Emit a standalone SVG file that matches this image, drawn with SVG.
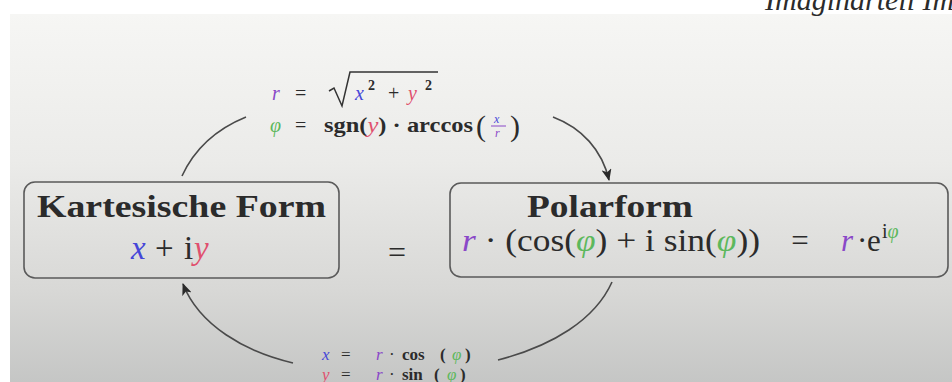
<svg xmlns="http://www.w3.org/2000/svg" width="952" height="382" viewBox="0 0 952 382">
<defs>
<linearGradient id="bg" x1="0" y1="14" x2="0" y2="382" gradientUnits="userSpaceOnUse">
<stop offset="0" stop-color="#f6f6f4"/>
<stop offset="0.4" stop-color="#ebebe9"/>
<stop offset="0.75" stop-color="#d8d8d6"/>
<stop offset="1" stop-color="#c5c6c5"/>
</linearGradient>
<marker id="arr" viewBox="0 0 12 10" refX="11" refY="5" markerWidth="12" markerHeight="10" markerUnits="userSpaceOnUse" orient="auto">
<path d="M0,0 L12,5 L0,10 L3,5 Z" fill="#2a2a2a"/>
</marker>
<style>
.s{font-family:"Liberation Serif","Times New Roman","DejaVu Serif",serif;fill:#2b2b2b}
.b{font-weight:bold}
.it{font-style:italic}
.cx{fill:#4646d8}
.cy{fill:#e0506e}
.cr{fill:#8a48c8}
.cp{fill:#5cb85c}
.box{fill:none;stroke:#5a5a5a;stroke-width:1.6}
.arc{fill:none;stroke:#4a4a4a;stroke-width:1.6}
</style>
</defs>
<rect x="0" y="0" width="952" height="382" fill="#ffffff"/>
<rect x="10" y="14" width="942" height="368" fill="url(#bg)"/>
<text class="s it" x="765" y="10" font-size="30" fill="#111">Imaginärteil Im</text>

<g id="connectors">
<path class="arc" d="M182,176 C194,150 214,130 246,117"/>
<path class="arc" d="M553,117 C582,128 602,150 609,180" marker-end="url(#arr)"/>
<path class="arc" d="M612,282 C595,320 552,346 498,360"/>
<path class="arc" d="M293,363 C245,352 199,325 183,284" marker-end="url(#arr)"/>
</g>

<g id="kartesisch">
<rect class="box" x="24" y="182" width="315" height="96" rx="11"/>
<text class="s b" x="37" y="217" font-size="32" textLength="289" lengthAdjust="spacingAndGlyphs">Kartesische Form</text>
<text class="s it cx" x="131" y="259" font-size="33">x</text>
<text class="s" x="155" y="259" font-size="33">+</text>
<text class="s" x="184" y="259" font-size="33">i</text>
<text class="s it cy" x="194" y="259" font-size="33">y</text>
</g>

<g id="gleich">
<text class="s" x="397" y="263" font-size="32" text-anchor="middle">=</text>
</g>

<g id="polar">
<rect class="box" x="450" y="183" width="498" height="94" rx="11"/>
<text class="s b" x="527" y="217" font-size="32" textLength="166" lengthAdjust="spacingAndGlyphs">Polarform</text>
<text class="s" x="462" y="251" font-size="31" textLength="298" lengthAdjust="spacingAndGlyphs"><tspan class="it cr">r</tspan> · (cos(<tspan class="it cp">φ</tspan>) + i sin(<tspan class="it cp">φ</tspan>))</text>
<text class="s" x="800" y="251" font-size="31" text-anchor="middle">=</text>
<text class="s it cr" x="841" y="251" font-size="31">r</text>
<text class="s" x="857" y="251" font-size="31">·</text>
<text class="s" x="867" y="251" font-size="31">e</text>
<text class="s" x="882" y="238" font-size="20">i<tspan class="it cp">φ</tspan></text>
</g>

<g id="formel-oben">
<text class="s it cr" x="272" y="100" font-size="20">r</text>
<text class="s" x="295" y="100" font-size="20">=</text>
<path d="M329,91 L334,88 L342,106 L350,72 L438,72" fill="none" stroke="#333" stroke-width="1.5"/>
<text class="s it cx" x="355" y="100" font-size="20">x</text>
<text class="s b" x="368" y="90" font-size="14">2</text>
<text class="s" x="388" y="100" font-size="20">+</text>
<text class="s it cy" x="408" y="100" font-size="20">y</text>
<text class="s b" x="425" y="90" font-size="14">2</text>
<text class="s it cp" x="270" y="132" font-size="20">φ</text>
<text class="s" x="295" y="132" font-size="20">=</text>
<text class="s b" x="324" y="132" font-size="20" textLength="149" lengthAdjust="spacingAndGlyphs">sgn(<tspan class="it cy" font-weight="normal">y</tspan>) · arccos</text>
<text class="s" x="476" y="136" font-size="30">(</text>
<text class="s it cx" x="494" y="123" font-size="12">x</text>
<line x1="491" y1="126" x2="506" y2="126" stroke="#8a48c8" stroke-width="1"/>
<text class="s it cr" x="495" y="137" font-size="12">r</text>
<text class="s" x="510" y="136" font-size="30">)</text>
</g>

<g id="formel-unten">
<text class="s it cx" x="322" y="360" font-size="17">x</text>
<text class="s" x="341" y="360" font-size="17">=</text>
<text class="s it cr" x="376" y="360" font-size="17">r</text>
<text class="s" x="389" y="360" font-size="17">·</text>
<text class="s b" x="402" y="360" font-size="17">cos</text>
<text class="s b" x="440" y="360" font-size="17">(</text>
<text class="s it cp" x="452" y="360" font-size="17">φ</text>
<text class="s b" x="465" y="360" font-size="17">)</text>
<text class="s it cy" x="322" y="380" font-size="17">y</text>
<text class="s" x="341" y="380" font-size="17">=</text>
<text class="s it cr" x="376" y="380" font-size="17">r</text>
<text class="s" x="389" y="380" font-size="17">·</text>
<text class="s b" x="402" y="380" font-size="17">sin</text>
<text class="s b" x="434" y="380" font-size="17">(</text>
<text class="s it cp" x="447" y="380" font-size="17">φ</text>
<text class="s b" x="460" y="380" font-size="17">)</text>
</g>
</svg>
